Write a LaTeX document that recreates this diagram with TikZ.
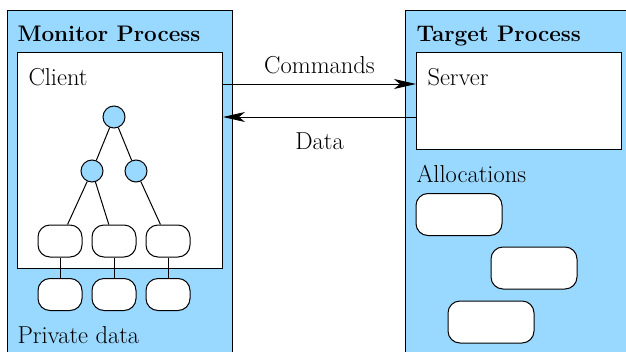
\documentclass[tikz,border=0pt]{standalone}
\usepackage{tikz}
\usetikzlibrary{shapes,arrows,arrows.meta}

\definecolor{procblue}{RGB}{153,216,255}

\begin{document}
\begin{tikzpicture}[x=1pt, y=-1pt, line width=1pt,
    every node/.style={font=\fontsize{24.5}{29}\selectfont}]

    % Define block styles
    \tikzstyle{process} = [rectangle, draw, fill=procblue, anchor=north west,
        inner sep=0pt, minimum width=240pt, minimum height=350pt]
    \tikzstyle{panel} = [rectangle, draw, fill=white, anchor=north west,
        inner sep=0pt, minimum width=205pt]
    \tikzstyle{title} = [anchor=base west, inner sep=0pt]
    \tikzstyle{heading} = [title, font=\fontsize{22.5}{27}\selectfont\bfseries]
    \tikzstyle{vertex} = [circle, draw, fill=procblue, inner sep=0pt, minimum size=22pt]
    \tikzstyle{cell} = [rectangle, draw, fill=white, rounded corners=12pt,
        inner sep=0pt, minimum width=44pt, minimum height=32pt]
    \tikzstyle{chunk} = [rectangle, draw, fill=white, rounded corners=12pt,
        inner sep=0pt, minimum width=86pt, minimum height=42pt]
    \tikzstyle{line} = [draw]
    \tikzstyle{flow} = [draw, -{Stealth[length=22pt, width=10pt, inset=6pt]}]

    \useasboundingbox (0,0) rectangle (626,351);
    \clip (0,0) rectangle (626,351);

    % Place nodes
    \node [process, minimum width=225pt] (monitor) at (7,10) {};
    \node [process] (target) at (405,10) {};
    \node [heading] (montitle) at (17,41) {Monitor Process};
    \node [heading] (tartitle) at (416,41) {Target Process};

    \node [panel, minimum height=216pt] (client) at (17,52) {};
    \node [panel, minimum height=97pt] (server) at (416,52) {};
    \node [title] (clientlbl) at (28,85) {Client};
    \node [title] (serverlbl) at (427,85) {Server};

    \node [vertex] (root) at (114,117) {};
    \node [vertex] (inner1) at (92,171) {};
    \node [vertex] (inner2) at (136,171) {};
    \node [cell] (leaf1) at (60,241) {};
    \node [cell] (leaf2) at (114,241) {};
    \node [cell] (leaf3) at (168,241) {};
    \node [cell] (priv1) at (60,294.5) {};
    \node [cell] (priv2) at (114,294.5) {};
    \node [cell] (priv3) at (168,294.5) {};
    \node [title] (privlbl) at (17,343) {Private data};

    \node [title] (alloclbl) at (416,182) {Allocations};
    \node [chunk] (alloc1) at (459,214.5) {};
    \node [chunk] (alloc2) at (534,268) {};
    \node [chunk] (alloc3) at (491,322) {};

    % Draw edges
    \path [line] (root) -- (inner1);
    \path [line] (root) -- (inner2);
    \path [line] (inner1) -- (leaf1);
    \path [line] (inner1) -- (leaf2);
    \path [line] (inner2) -- (leaf3);
    \path [line] (leaf1) -- (priv1);
    \path [line] (leaf2) -- (priv2);
    \path [line] (leaf3) -- (priv3);

    \path [flow] ([yshift=-32pt]client.north east) -- ([yshift=-32pt]server.north west)
        node [midway, anchor=base, yshift=11pt] {Commands};
    \path [flow] ([yshift=-65pt]server.north west) -- ([yshift=-65pt]client.north east)
        node [midway, anchor=base, yshift=-32pt] {Data};

\end{tikzpicture}
\end{document}
